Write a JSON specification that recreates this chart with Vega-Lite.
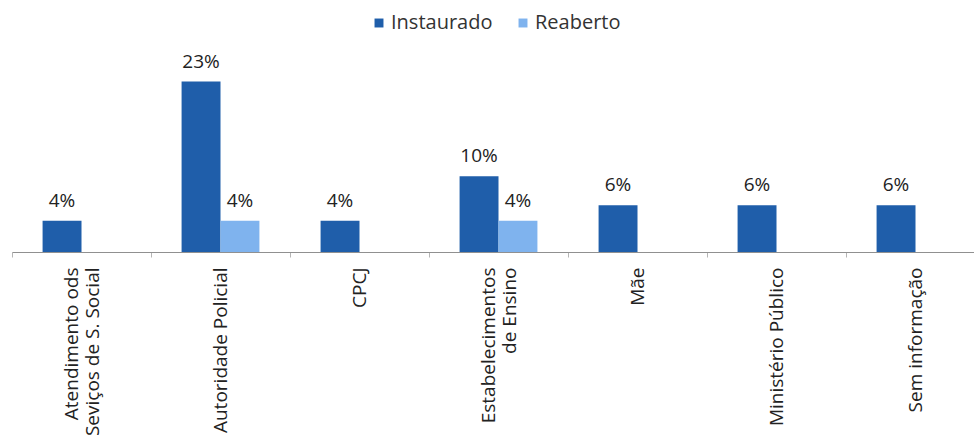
{
  "$schema": "https://vega.github.io/schema/vega-lite/v6.json",
  "width": 973,
  "height": 212,
  "autosize": {"type": "none"},
  "padding": {"left": 12, "top": 40, "right": 0, "bottom": 187},
  "background": "white",
  "config": {"view": {"stroke": null}, "font": "Open Sans"},
  "data": {
    "values": [
      {"cat": "Atendimento ods|Seviços de S. Social", "serie": "Instaurado", "v": 0.043},
      {"cat": "Autoridade Policial", "serie": "Instaurado", "v": 0.234},
      {"cat": "Autoridade Policial", "serie": "Reaberto", "v": 0.043},
      {"cat": "CPCJ", "serie": "Instaurado", "v": 0.043},
      {"cat": "Estabelecimentos|de Ensino", "serie": "Instaurado", "v": 0.104},
      {"cat": "Estabelecimentos|de Ensino", "serie": "Reaberto", "v": 0.043},
      {"cat": "Mãe", "serie": "Instaurado", "v": 0.064},
      {"cat": "Ministério Público", "serie": "Instaurado", "v": 0.064},
      {"cat": "Sem informação", "serie": "Instaurado", "v": 0.064}
    ]
  },
  "encoding": {
    "x": {
      "field": "cat", "type": "nominal", "sort": null,
      "scale": {"paddingInner": 0.44, "paddingOuter": 0.22},
      "axis": {
        "title": null, "labelAngle": -90, "labelAlign": "right", "labelBaseline": "middle",
        "labelExpr": "split(replace(datum.value, 'de Ensino', 'de Ensino\u00a0\u00a0\u00a0\u00a0\u00a0\u00a0\u00a0\u00a0\u00a0\u00a0'), '|')",
        "labelFontSize": 19, "labelColor": "#222", "labelPadding": 10, "labelLimit": 300,
        "tickOffset": -69.5,
        "labelOffset": {"condition": {"test": "indexof(datum.value, '|') >= 0", "value": 59.5}, "value": 69.5},
        "labelLineHeight": 21, "tickColor": "#b5b5b5", "tickSize": 5, "domainColor": "#909090"
      }
    },
    "xOffset": {"field": "serie", "type": "nominal", "scale": {"domain": ["Instaurado", "Reaberto"], "paddingInner": 0}},
    "y": {"field": "v", "type": "quantitative", "scale": {"domain": [0, 0.291]}, "axis": null}
  },
  "layer": [
    {
      "mark": {"type": "bar"},
      "encoding": {
        "color": {
          "field": "serie", "type": "nominal",
          "scale": {"domain": ["Instaurado", "Reaberto"], "range": ["#1f5eaa", "#7fb3ee"]},
          "legend": {
            "orient": "none", "legendX": 357, "legendY": -27, "title": null, "direction": "horizontal", "symbolType": "square",
            "symbolSize": 80, "labelFontSize": 20, "labelColor": "#333", "columnPadding": 20, "labelOffset": 2
          }
        }
      }
    },
    {
      "mark": {"type": "text", "dy": -14, "baseline": "alphabetic", "fontSize": 19, "color": "#222"},
      "encoding": {
        "text": {"field": "v", "type": "quantitative", "format": ".0%"}
      }
    }
  ]
}
